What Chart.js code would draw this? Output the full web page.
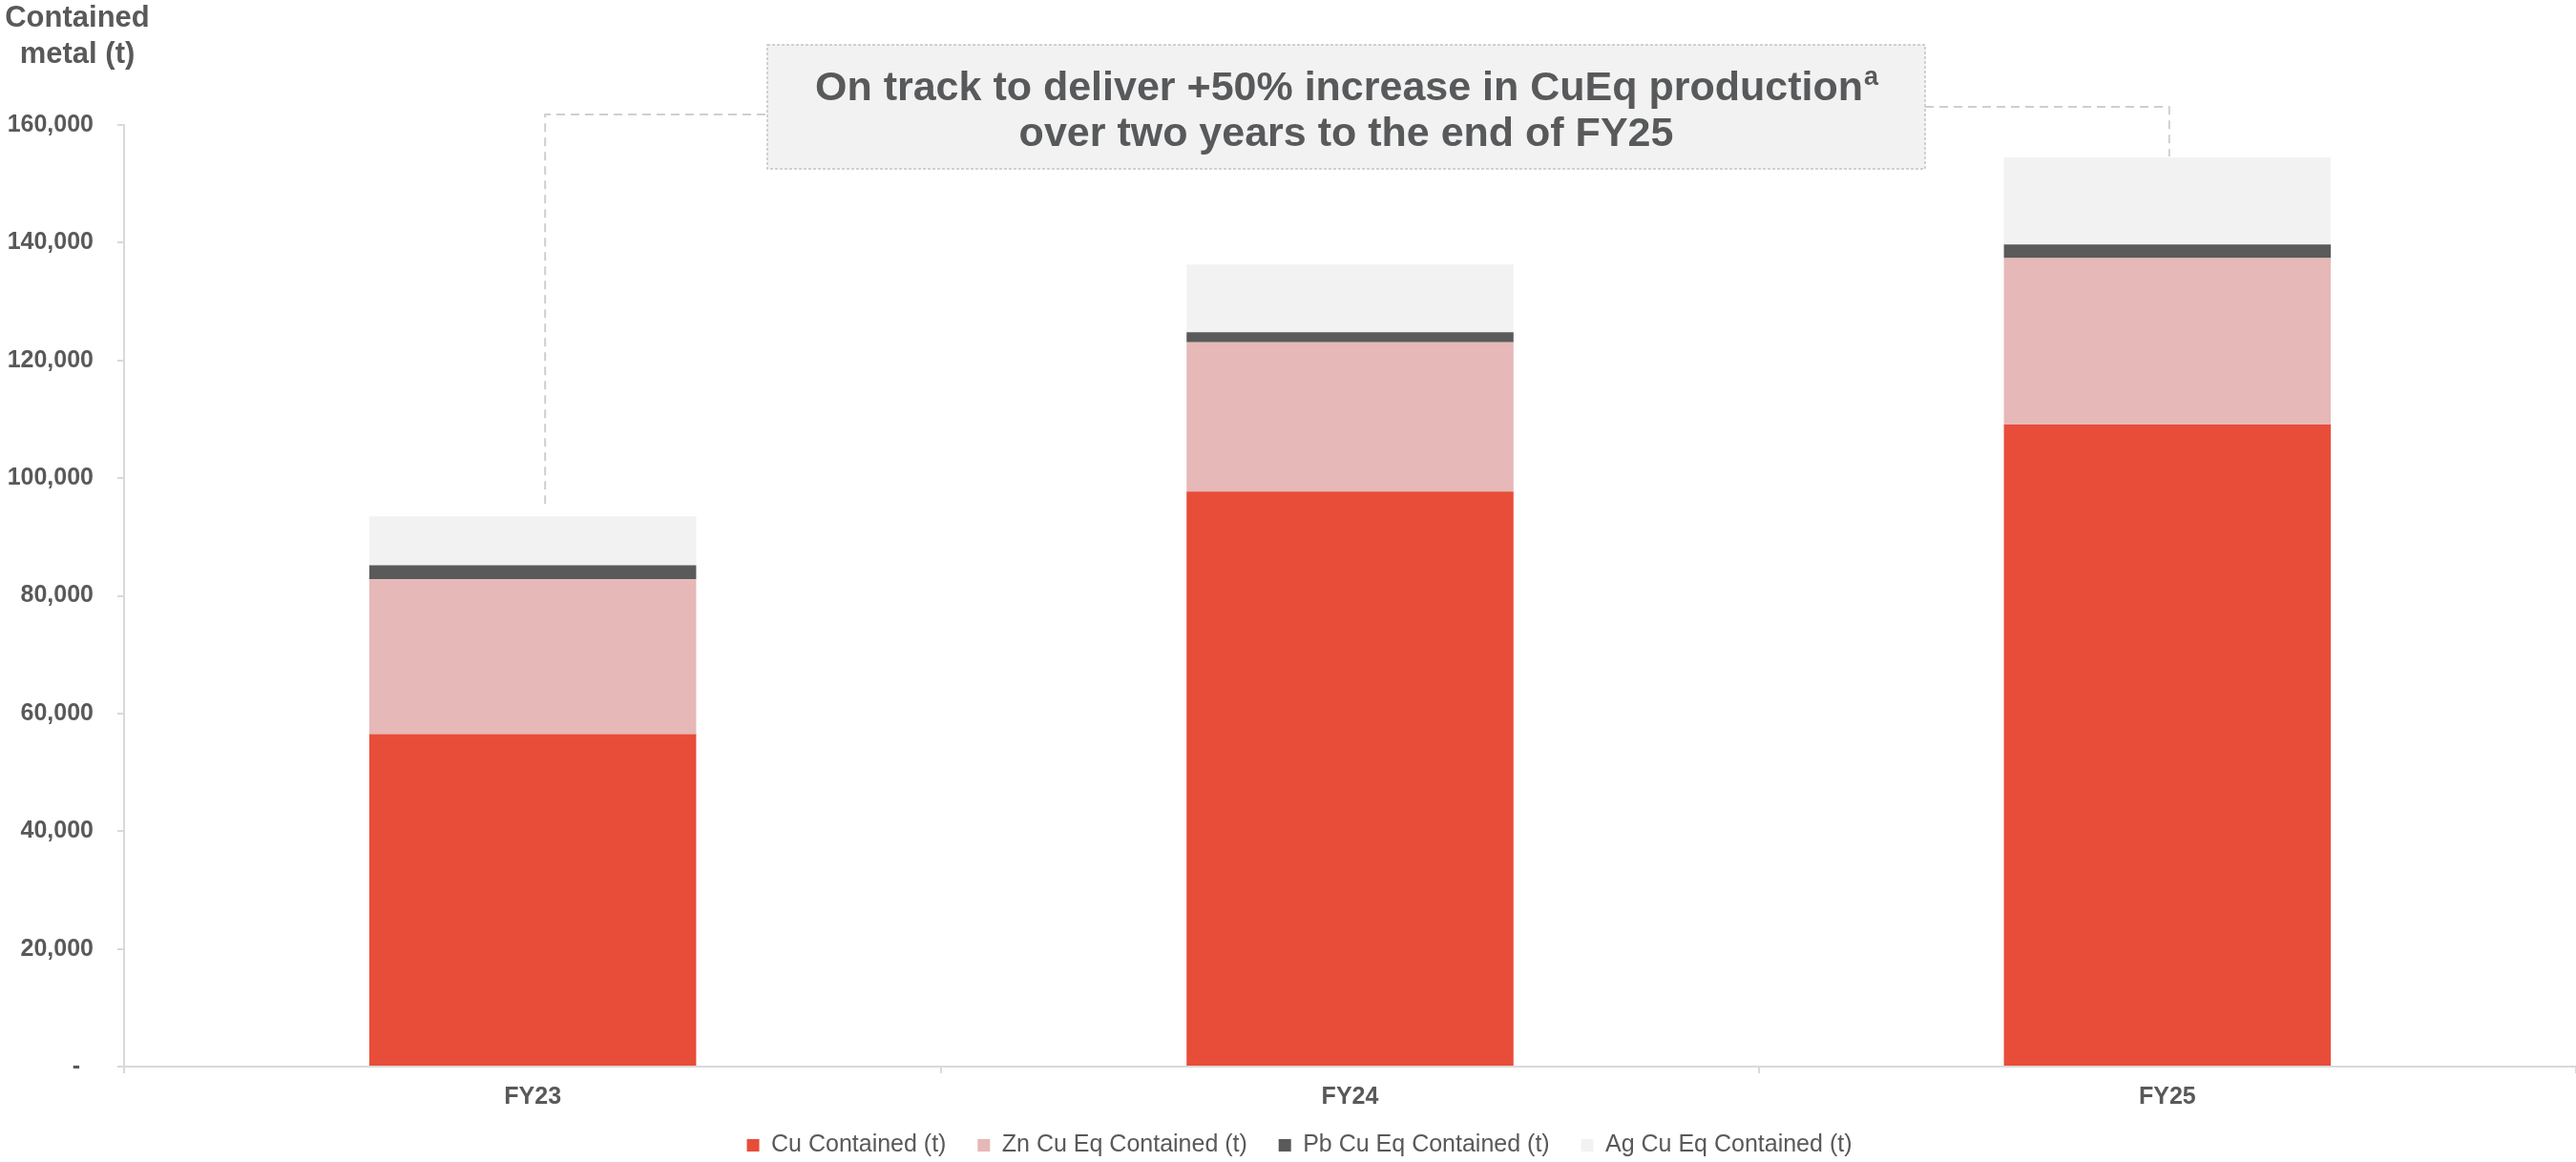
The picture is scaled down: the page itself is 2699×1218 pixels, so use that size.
<!DOCTYPE html>
<html>
<head>
<meta charset="utf-8">
<script src="https://cdn.jsdelivr.net/npm/chart.js@4.4.1/dist/chart.umd.min.js"></script>
<style>
  html, body { margin: 0; padding: 0; background: #fff; }
  canvas { display: block; }
</style>
</head>
<body>
<canvas id="grafica" width="2699" height="1218"></canvas>
<script>
// categorias y valores (t)
const years = ['FY23', 'FY24', 'FY25'];
const cuData = [56500, 97700, 109100]; // Cu Contained
const znData = [26300, 25400, 28300];  // Zn Cu Eq
const pbData = [2400, 1700, 2300];     // Pb Cu Eq
const agData = [8300, 11500, 14800];   // Ag Cu Eq

const seriesNames = ['Cu Contained (t)', 'Zn Cu Eq Contained (t)', 'Pb Cu Eq Contained (t)', 'Ag Cu Eq Contained (t)'];
const yTicks = [0, 20000, 40000, 60000, 80000, 100000, 120000, 140000, 160000];

const axisTitle = ['Contained', 'metal (t)'];
const noteLine1 = 'On track to deliver +50% increase in CuEq production';
const noteSup = 'a';
const noteLine2 = 'over two years to the end of FY25';

const gris = '#595959';
const fuente = "'Liberation Sans', Arial, sans-serif";

// titulo del eje y recuadro con lineas de union
const notasPlugin = {
  id: 'notas',
  afterLayout(chart) {
    // mover un poco la leyenda (derecha y abajo)
    const lg = chart.legend;
    if (lg) {
      lg.left += 12; lg.right += 12;
      lg.top += 5; lg.bottom += 5;
    }
  },
  afterDraw(chart) {
    const ctx = chart.ctx;
    const area = chart.chartArea;
    const x = chart.scales.x;
    const y = chart.scales.y;

    ctx.save();
    // titulo del eje
    ctx.fillStyle = gris;
    ctx.font = 'bold 31px ' + fuente;
    ctx.textAlign = 'center';
    ctx.textBaseline = 'alphabetic';
    ctx.fillText(axisTitle[0], area.left - 49, area.top - 103);
    ctx.fillText(axisTitle[1], area.left - 49, area.top - 65);

    // recuadro
    const cx = (area.left + area.right) / 2 - 4;
    const bw = 1213, bh = 130;
    const bx = cx - bw / 2, by = area.top - 84;

    // lineas de union
    const tot0 = cuData[0] + znData[0] + pbData[0] + agData[0];
    const tot2 = cuData[2] + znData[2] + pbData[2] + agData[2];
    ctx.strokeStyle = '#cfcfcf';
    ctx.lineWidth = 2;
    ctx.setLineDash([9, 6]);
    ctx.beginPath();
    const lx = x.getPixelForValue(0) + 13;
    ctx.moveTo(lx, y.getPixelForValue(tot0) - 13);
    ctx.lineTo(lx, area.top - 11);
    ctx.lineTo(bx, area.top - 11);
    ctx.stroke();
    ctx.beginPath();
    const rx = x.getPixelForValue(2) + 2;
    ctx.moveTo(bx + bw, area.top - 19);
    ctx.lineTo(rx, area.top - 19);
    ctx.lineTo(rx, y.getPixelForValue(tot2) - 1);
    ctx.stroke();

    ctx.setLineDash([]);
    ctx.fillStyle = '#f2f2f2';
    ctx.fillRect(bx, by, bw, bh);
    ctx.strokeStyle = '#c4c4c4';
    ctx.lineWidth = 1.5;
    ctx.setLineDash([3, 2]);
    ctx.strokeRect(bx, by, bw, bh);
    ctx.setLineDash([]);

    // texto del recuadro
    ctx.fillStyle = '#58595b';
    ctx.textBaseline = 'middle';
    ctx.font = 'bold 43px ' + fuente;
    const w1 = ctx.measureText(noteLine1).width;
    ctx.font = 'bold 27px ' + fuente;
    const ws = ctx.measureText(noteSup).width;
    const sx = cx - (w1 + ws) / 2;
    ctx.textAlign = 'left';
    ctx.font = 'bold 43px ' + fuente;
    ctx.fillText(noteLine1, sx, area.top - 38);
    ctx.font = 'bold 27px ' + fuente;
    ctx.fillText(noteSup, sx + w1 + 1, area.top - 49);
    ctx.textAlign = 'center';
    ctx.font = 'bold 43px ' + fuente;
    ctx.fillText(noteLine2, cx, area.top + 10);
    ctx.restore();
  }
};

const ctx = document.getElementById('grafica').getContext('2d');
const chart = new Chart(ctx, {
  type: 'bar',
  data: {
    labels: years,
    datasets: [
      { label: seriesNames[0], data: cuData, backgroundColor: '#e84d3a' },
      { label: seriesNames[1], data: znData, backgroundColor: '#e6b8b7' },
      { label: seriesNames[2], data: pbData, backgroundColor: '#5a5a5a' },
      { label: seriesNames[3], data: agData, backgroundColor: '#f2f2f2' }
    ]
  },
  options: {
    responsive: false,
    animation: false,
    devicePixelRatio: 1,
    layout: { padding: { top: 131, left: 0, right: 0, bottom: 0 } },
    datasets: {
      bar: { barPercentage: 0.4, categoryPercentage: 1.0, borderWidth: 0 }
    },
    scales: {
      x: {
        stacked: true,
        grid: { display: true, offset: true, drawOnChartArea: false, tickLength: 7, color: '#d9d9d9', lineWidth: 2 },
        border: { color: '#d9d9d9', width: 2 },
        ticks: { color: gris, font: { family: fuente, size: 25, weight: 'bold' }, padding: 10 },
        afterFit: (scale) => { scale.height -= 4; }
      },
      y: {
        stacked: true,
        min: 0,
        max: 160000,
        afterBuildTicks: (scale) => { scale.ticks = yTicks.map(v => ({ value: v })); },
        grid: { display: true, drawOnChartArea: false, tickLength: 7, color: '#d9d9d9', lineWidth: 2 },
        border: { color: '#d9d9d9', width: 2 },
        ticks: {
          color: gris,
          font: { family: fuente, size: 25, weight: 'bold' },
          padding: 25,
          callback: (v) => v === 0 ? '-  ' : v.toLocaleString('en-US')
        },
        afterFit: (scale) => { scale.width = 130; }
      }
    },
    plugins: {
      legend: {
        position: 'bottom',
        labels: {
          boxWidth: 13,
          boxHeight: 13,
          padding: 12,
          color: gris,
          font: { family: fuente, size: 25 },
          generateLabels: (c) => {
            const items = Chart.defaults.plugins.legend.labels.generateLabels(c);
            items.forEach((it, i) => {
              if (i < items.length - 1) it.text = it.text + '   ';
              it.lineWidth = 0;
            });
            return items;
          }
        }
      },
      tooltip: { enabled: false }
    }
  },
  plugins: [notasPlugin]
});
</script>
</body>
</html>
